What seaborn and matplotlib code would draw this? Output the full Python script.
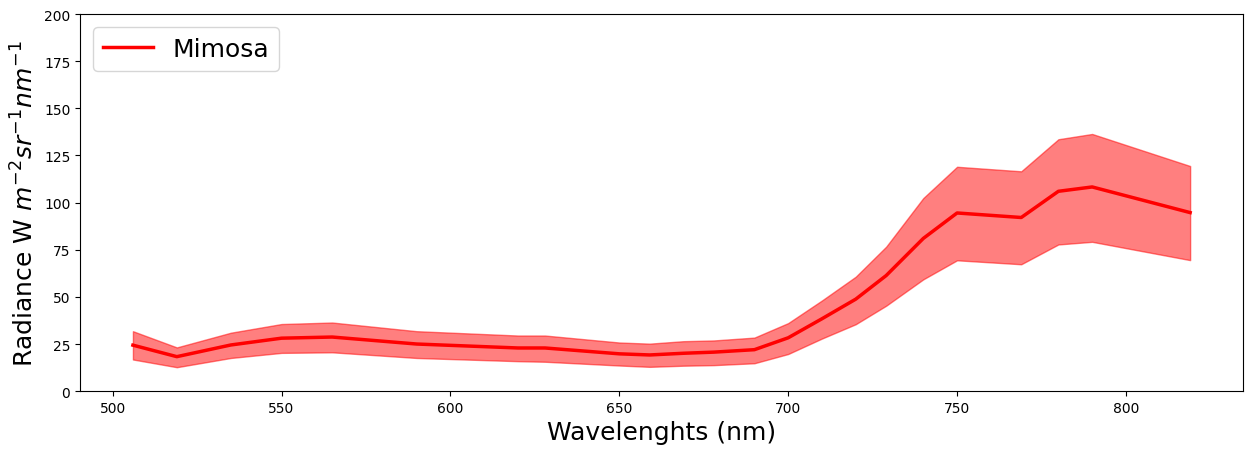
import numpy as np
import pandas as pd
import matplotlib
matplotlib.use('Agg')
import matplotlib.pyplot as plt
import seaborn as sns

# band centres (nm) and radiance mean / std band
wavelengths = [506, 519, 535, 550, 565, 590, 620, 628, 650, 659, 669, 678, 690,
               700, 710, 720, 729, 740, 750, 769, 780, 790, 819]
mean_rad = [24.4, 18.3, 24.5, 28.1, 28.7, 25.0, 22.9, 22.9, 19.8, 19.2, 20.1, 20.7, 22.0,
            28.3, 38.4, 48.8, 61.3, 81.0, 94.5, 92.1, 106.0, 108.3, 94.7]
upper_rad = [31.8, 23.2, 31.0, 35.6, 36.4, 31.8, 29.5, 29.5, 25.8, 25.2, 26.5, 26.9, 28.4,
             36.1, 48.1, 60.7, 76.6, 102.4, 119.0, 116.6, 133.6, 136.4, 119.4]
lower_rad = [16.8, 12.7, 17.6, 20.3, 20.6, 17.6, 15.9, 15.6, 13.6, 12.9, 13.5, 13.8, 14.8,
             19.7, 27.9, 35.5, 45.3, 59.3, 69.4, 67.3, 77.8, 79.2, 69.5]

df = pd.DataFrame({'wl': wavelengths, 'mean': mean_rad,
                   'upper': upper_rad, 'lower': lower_rad})

fig, ax = plt.subplots(figsize=(12.51, 4.56), dpi=100)
fig.subplots_adjust(left=0.064, right=0.9936, top=0.967, bottom=0.14)

sns.lineplot(data=df, x='wl', y='mean', color='red', linewidth=2.5,
             label='Mimosa', ax=ax)
ax.fill_between(df['wl'], df['lower'], df['upper'], color='red', alpha=0.5)

ax.set_ylim(0, 200)
ax.set_xlabel('Wavelenghts (nm)', fontsize=18)
ax.set_ylabel(r'Radiance W $m^{-2} sr^{-1} nm^{-1}$', fontsize=18)
ax.legend(loc='upper left', fontsize=18)

plt.savefig('out.png', dpi=100)
